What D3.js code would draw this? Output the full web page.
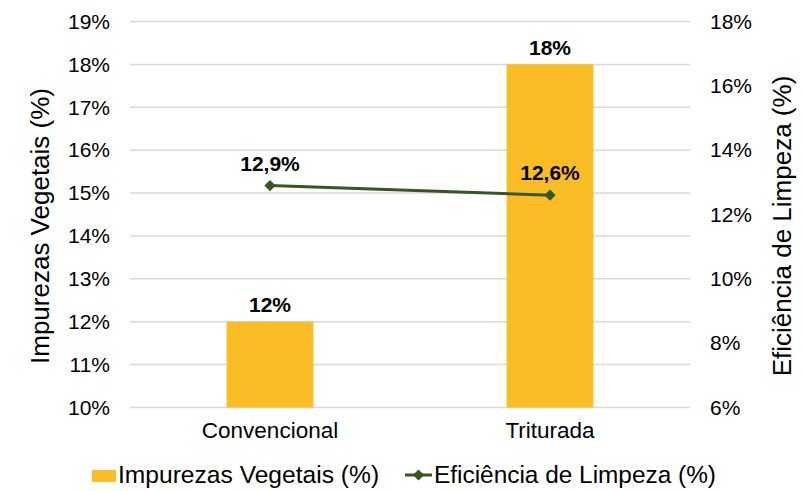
<!DOCTYPE html>
<html>
<head>
<meta charset="utf-8">
<script src="https://cdn.jsdelivr.net/npm/d3@7"></script>
<style>
  html, body { margin: 0; padding: 0; background: #fff; }
  svg { display: block; font-family: "Liberation Sans", Arial, sans-serif; }
</style>
</head>
<body>
<svg id="chart" width="805" height="491"></svg>
<script>
// Categories and series
const categories = ["Convencional", "Triturada"];
const impurezas = [12, 18];          // left axis, bars (%)
const eficiencia = [12.9, 12.6];     // right axis, line (%)
const impurezasLabels = ["12%", "18%"];
const eficienciaLabels = ["12,9%", "12,6%"];
const leftTicks = [10, 11, 12, 13, 14, 15, 16, 17, 18, 19];
const rightTicks = [6, 8, 10, 12, 14, 16, 18];
const seriesNames = ["Impurezas Vegetais (%)", "Eficiência de Limpeza (%)"];

const barColor = "#FBBD26";
const lineColor = "#375623";
const gridColor = "#D9D9D9";
const textColor = "#000";

const svg = d3.select("#chart");

const plotLeft = 130, plotRight = 690, plotTop = 21.5, plotBottom = 407.5;

const x = d3.scaleBand()
  .domain(categories)
  .range([plotLeft, plotRight])
  .paddingInner(0.69)
  .paddingOuter(0.345);

const yLeft = d3.scaleLinear().domain([10, 19]).range([plotBottom, plotTop]);
const yRight = d3.scaleLinear().domain([6, 18]).range([plotBottom, plotTop]);

// Gridlines
svg.append("g")
  .selectAll("line")
  .data(leftTicks)
  .join("line")
  .attr("x1", plotLeft)
  .attr("x2", plotRight)
  .attr("y1", d => yLeft(d))
  .attr("y2", d => yLeft(d))
  .attr("stroke", gridColor)
  .attr("stroke-width", 1.5);

// Left axis
const leftAxis = svg.append("g")
  .attr("transform", `translate(${plotLeft},0)`)
  .call(d3.axisLeft(yLeft).tickValues(leftTicks).tickSize(0).tickPadding(20).tickFormat(d => d + "%"));
leftAxis.select(".domain").remove();
leftAxis.selectAll("text")
  .attr("font-size", 21)
  .attr("fill", textColor)
  .attr("font-family", "Liberation Sans, Arial, sans-serif");

// Right axis
const rightAxis = svg.append("g")
  .attr("transform", `translate(${plotRight},0)`)
  .call(d3.axisRight(yRight).tickValues(rightTicks).tickSize(0).tickPadding(20).tickFormat(d => d + "%"));
rightAxis.select(".domain").remove();
rightAxis.selectAll("text")
  .attr("font-size", 21)
  .attr("fill", textColor)
  .attr("font-family", "Liberation Sans, Arial, sans-serif");

// Category labels
svg.append("g")
  .selectAll("text")
  .data(categories)
  .join("text")
  .attr("x", d => x(d) + x.bandwidth() / 2)
  .attr("y", 438)
  .attr("text-anchor", "middle")
  .attr("font-size", 22.5)
  .attr("fill", textColor)
  .text(d => d);

// Bars
svg.append("g")
  .selectAll("rect")
  .data(categories)
  .join("rect")
  .attr("x", d => x(d))
  .attr("width", x.bandwidth())
  .attr("y", (d, i) => yLeft(impurezas[i]))
  .attr("height", (d, i) => yLeft(10) - yLeft(impurezas[i]))
  .attr("fill", barColor);

// Bar value labels
svg.append("g")
  .selectAll("text")
  .data(categories)
  .join("text")
  .attr("x", d => x(d) + x.bandwidth() / 2)
  .attr("y", (d, i) => yLeft(impurezas[i]) - 9.5)
  .attr("text-anchor", "middle")
  .attr("font-size", 21)
  .attr("font-weight", "bold")
  .attr("fill", textColor)
  .text((d, i) => impurezasLabels[i]);

// Line series
const linePts = categories.map((c, i) => [x(c) + x.bandwidth() / 2, yRight(eficiencia[i])]);
svg.append("path")
  .attr("d", d3.line()(linePts))
  .attr("fill", "none")
  .attr("stroke", lineColor)
  .attr("stroke-width", 3);

const diamond = d3.symbol().type(d3.symbolDiamond2).size(80);
svg.append("g")
  .selectAll("path")
  .data(linePts)
  .join("path")
  .attr("transform", d => `translate(${d[0]},${d[1]})`)
  .attr("d", diamond)
  .attr("fill", lineColor);

// Line value labels
svg.append("g")
  .selectAll("text")
  .data(linePts)
  .join("text")
  .attr("x", d => d[0])
  .attr("y", d => d[1] - 15)
  .attr("text-anchor", "middle")
  .attr("font-size", 21)
  .attr("font-weight", "bold")
  .attr("fill", textColor)
  .text((d, i) => eficienciaLabels[i]);

// Axis titles
svg.append("text")
  .attr("transform", "translate(49,226) rotate(-90)")
  .attr("text-anchor", "middle")
  .attr("font-size", 26)
  .attr("fill", textColor)
  .text(seriesNames[0]);

svg.append("text")
  .attr("transform", "translate(791,226) rotate(-90)")
  .attr("text-anchor", "middle")
  .attr("font-size", 26)
  .attr("fill", textColor)
  .text(seriesNames[1]);

// Legend
const legend = svg.append("g");
legend.append("rect")
  .attr("x", 92).attr("y", 470)
  .attr("width", 24).attr("height", 12)
  .attr("fill", barColor);
legend.append("text")
  .attr("x", 118).attr("y", 483)
  .attr("font-size", 24.6)
  .attr("fill", textColor)
  .text(seriesNames[0]);

legend.append("line")
  .attr("x1", 405).attr("x2", 432)
  .attr("y1", 475).attr("y2", 475)
  .attr("stroke", lineColor)
  .attr("stroke-width", 3);
legend.append("path")
  .attr("transform", "translate(418.5,475)")
  .attr("d", diamond)
  .attr("fill", lineColor);
legend.append("text")
  .attr("x", 434).attr("y", 483)
  .attr("font-size", 24.4)
  .attr("fill", textColor)
  .text(seriesNames[1]);
</script>
</body>
</html>
